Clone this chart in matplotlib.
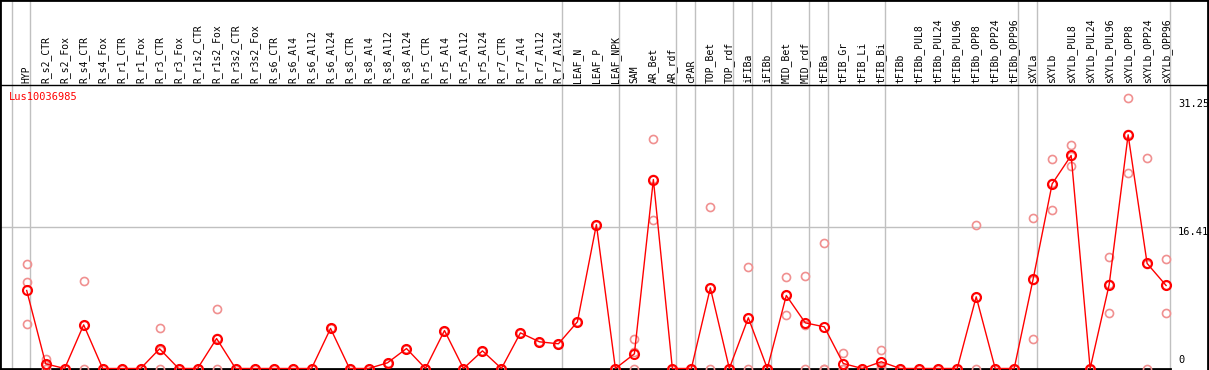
import matplotlib
matplotlib.use("Agg")
from matplotlib import pyplot as plt

samples = ["HYP",
           "R_s2_CTR", "R_s2_Fox", "R_s4_CTR", "R_s4_Fox", "R_r1_CTR", "R_r1_Fox",
           "R_r3_CTR", "R_r3_Fox", "R_r1s2_CTR", "R_r1s2_Fox", "R_r3s2_CTR", "R_r3s2_Fox",
           "R_s6_CTR", "R_s6_Al4", "R_s6_Al12", "R_s6_Al24",
           "R_s8_CTR", "R_s8_Al4", "R_s8_Al12", "R_s8_Al24",
           "R_r5_CTR", "R_r5_Al4", "R_r5_Al12", "R_r5_Al24",
           "R_r7_CTR", "R_r7_Al4", "R_r7_Al12", "R_r7_Al24",
           "LEAF_N", "LEAF_P", "LEAF_NPK", "SAM", "AR_Bet", "AR_rdf", "cPAR",
           "TOP_Bet", "TOP_rdf", "iFIBa", "iFIBb", "MID_Bet", "MID_rdf",
           "tFIBa", "tFIB_Gr", "tFIB_Li", "tFIB_Bi", "tFIBb",
           "tFIBb_PUL8", "tFIBb_PUL24", "tFIBb_PUL96", "tFIBb_OPP8", "tFIBb_OPP24", "tFIBb_OPP96",
           "sXYLa", "sXYLb",
           "sXYLb_PUL8", "sXYLb_PUL24", "sXYLb_PUL96", "sXYLb_OPP8", "sXYLb_OPP24", "sXYLb_OPP96"]

mean_expr = [9.06,
             0.54, 0, 5.07, 0, 0, 0, 2.29, 0, 0, 3.48, 0, 0,
             0, 0, 0, 4.65, 0, 0, 0.66, 2.32, 0, 4.41, 0, 2.05, 0, 4.14, 3.10, 2.87,
             5.42, 16.72, 0, 1.70, 21.95, 0, 0,
             9.37, 0, 5.89, 0, 8.48, 5.30,
             4.84, 0.58, 0, 0.78, 0,
             0, 0, 0, 8.33, 0, 0,
             10.41, 21.45,
             24.74, 0, 9.72, 27.14, 12.20, 9.64]

rep1 = [12.08,
        1.16, 0, 10.2, 0, 0, 0, 4.72, 0, 0, 6.93, 0, 0,
        0, 0, 0, 4.65, 0, 0, 0.66, 2.32, 0, 4.41, 0, 2.05, 0, 4.14, 3.10, 2.87,
        5.42, 16.72, 0, 3.37, 26.68, 0, 0,
        18.78, 0, 11.81, 0, 10.65, 10.8,
        14.6, 1.82, 0, 2.17, 0,
        0, 0, 0, 16.69, 0, 0,
        17.5, 24.35,
        26.0, 0, 13.0, 31.44, 24.47, 12.74]

rep2 = [10.07,
        0.46, 0, 5.01, 0, 0, 0, 2.15, 0, 0, 3.5, 0, 0,
        0, 0, 0, 4.65, 0, 0, 0.66, 2.32, 0, 4.41, 0, 2.05, 0, 4.14, 3.10, 2.87,
        5.42, 16.72, 0, 1.9, 17.19, 0, 0,
        9.33, 0, 5.86, 0, 6.23, 5.1,
        0, 0, 0, 0.17, 0,
        0, 0, 0, 8.3, 0, 0,
        3.45, 18.43,
        23.54, 0, 6.39, 22.73, 12.1, 6.47]

rep3 = [5.19,
        0, 0, 0, 0, 0, 0, 0, 0, 0, 0, 0, 0,
        0, 0, 0, 4.65, 0, 0, 0.66, 2.32, 0, 4.41, 0, 2.05, 0, 4.14, 3.10, 2.87,
        5.42, 16.72, 0, 0, 21.98, 0, 0,
        0, 0, 0, 0, 8.56, 0,
        0, 0, 0, 0, 0,
        0, 0, 0, 0, 0, 0,
        10.28, 21.57,
        24.68, 0, 9.77, 27.25, 0, 9.71]

# last sample index of each group (gray separators)
group_ends = [-1, 0, 28, 31, 34, 35, 37, 38, 39, 41, 42, 45, 52, 53, 60]
yticks = [0, 16.41, 31.25]
gene = "Lus10036985"

W, H = 1209, 370
pxu = 8.61          # pixels per expression unit
x0, dx = 26.7, 18.99  # pixel of first sample, pixel spacing
zero_px = 368.5

fig = plt.figure(figsize=(W / 100, H / 100), dpi=100)
ax = fig.add_axes([0, 0, 1207.5 / W, 1])
ax.set_xlim((0 - x0) / dx, (1207.5 - x0) / dx)
ax.set_ylim(-(H - zero_px) / pxu, zero_px / pxu)
ax.set_xticks([])
ax.set_yticks([])
for s in ["left", "top", "right"]:
    ax.spines[s].set_linewidth(2)
    ax.spines[s].set_color("black")
ax.spines["bottom"].set_visible(False)

mono = "DejaVu Sans Mono"
xs = list(range(len(samples)))
xend = ax.get_xlim()[0]

# separators
for g in group_ends:
    ax.axvline(g + 0.2, color="#c0c0c0", lw=1, zorder=1)
head_y = (zero_px - 85) / pxu
ax.axhline(head_y, color="black", lw=1, zorder=2)
ax.plot([xend, (1178 - x0) / dx], [yticks[1], yticks[1]], color="#c0c0c0", lw=1, zorder=1)
ax.plot([xend, 60.2], [0, 0], color="black", lw=2, zorder=2)

# sample labels in header
for x, name in zip(xs, samples):
    ax.text(x, (zero_px - 83) / pxu, name, rotation=90, ha="center", va="bottom",
            family=mono, fontsize=7, color="black")

ax.text((9 - x0) / dx, (zero_px - 97) / pxu, gene, color="red", family=mono,
        fontsize=7.5, ha="left", va="center")

# y labels
xl = (1178 - x0) / dx
ax.text(xl, yticks[2], "31.25", family=mono, fontsize=7.5, ha="left", va="top",
        transform=ax.transData)
ax.text(xl, yticks[1], "16.41", family=mono, fontsize=7.5, ha="left", va="top")
ax.text(xl, yticks[0] + 0.4, "0", family=mono, fontsize=7.5, ha="left", va="bottom")

for r in (rep1, rep2, rep3):
    ax.plot(xs, r, ls="none", marker="o", ms=5.8, mfc="none", mec="#f09090",
            mew=1.2, zorder=3)
ax.plot(xs, mean_expr, color="red", lw=1, marker="o", ms=6.5, mfc="none",
        mec="red", mew=1.5, zorder=4)

fig.savefig("out.png", dpi=100)
